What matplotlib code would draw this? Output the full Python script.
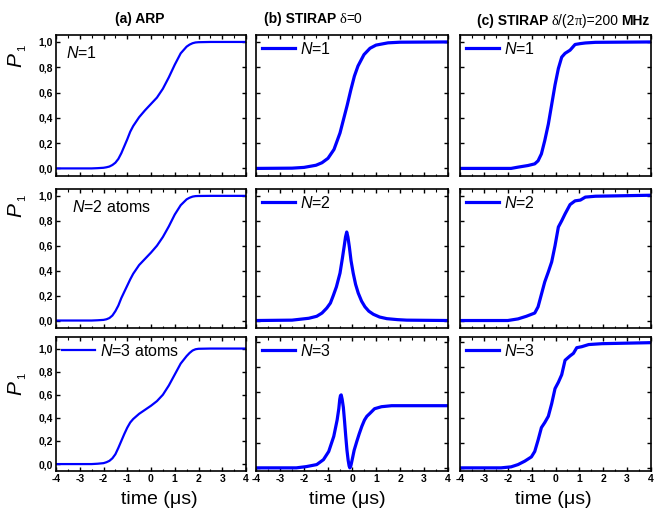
"""Population transfer P1(t) for ARP and STIRAP with N = 1, 2, 3 atoms."""

import matplotlib

matplotlib.use("Agg")
import matplotlib.pyplot as plt
from matplotlib.offsetbox import AnchoredOffsetbox, HPacker, TextArea

plt.rcParams["font.family"] = "Liberation Sans"
plt.rcParams["mathtext.fontset"] = "custom"
plt.rcParams["mathtext.rm"] = "Liberation Sans"
plt.rcParams["mathtext.it"] = "Liberation Sans:italic"
plt.rcParams["mathtext.bf"] = "Liberation Sans:bold"

# --- data (time in microseconds, P1 population) ---
arp_t = [-4, -2.5, -2.25, -2.0, -1.875, -1.75, -1.625, -1.5, -1.375, -1.25,
         -1.125, -1.0, -0.875, -0.75, -0.5, -0.25, 0, 0.25, 0.5, 0.75, 1.0,
         1.25, 1.5, 1.625, 1.75, 1.875, 2.0, 2.5, 4]
arp_n1 = [0, 0, 0.002, 0.005, 0.009, 0.015, 0.027, 0.045, 0.075, 0.12,
          0.175, 0.23, 0.29, 0.335, 0.405, 0.46, 0.51, 0.56, 0.63, 0.72, 0.82,
          0.91, 0.963, 0.979, 0.99, 0.996, 0.998, 1.0, 1.0]
arp_n2 = [0, 0, 0.002, 0.005, 0.01, 0.02, 0.04, 0.075, 0.12, 0.18,
          0.23, 0.28, 0.33, 0.375, 0.445, 0.495, 0.545, 0.60, 0.67, 0.755, 0.85,
          0.925, 0.972, 0.985, 0.994, 0.998, 0.999, 1.0, 1.0]
arp_n3 = [0, 0, 0.003, 0.008, 0.016, 0.028, 0.05, 0.085, 0.14, 0.2,
          0.26, 0.315, 0.36, 0.39, 0.435, 0.47, 0.505, 0.545, 0.6, 0.68, 0.775,
          0.87, 0.935, 0.962, 0.983, 0.994, 0.998, 1.0, 1.0]

res_n1_t = [-4, -2.5, -2.0, -1.5, -1.25, -1.0, -0.75, -0.5, -0.35, -0.2, -0.05,
            0.1, 0.25, 0.5, 0.75, 1.0, 1.5, 2.0, 4]
res_n1 = [0, 0.002, 0.008, 0.025, 0.045, 0.08, 0.15, 0.28, 0.39, 0.5, 0.62,
          0.73, 0.81, 0.9, 0.95, 0.975, 0.993, 0.998, 1.0]
res_n2_t = [-4, -2.5, -1.8, -1.47, -1.25, -1.05, -0.9, -0.78, -0.65, -0.5,
            -0.4, -0.33, -0.27, -0.22, -0.17, -0.11, -0.04, 0.05, 0.15, 0.26,
            0.4, 0.54, 0.7, 0.89, 1.15, 1.45, 1.9, 2.28, 4]
res_n2 = [0, 0.003, 0.018, 0.034, 0.06, 0.1, 0.14, 0.2, 0.27, 0.38,
          0.5, 0.59, 0.67, 0.71, 0.67, 0.59, 0.48, 0.38, 0.29, 0.22,
          0.155, 0.11, 0.075, 0.05, 0.028, 0.015, 0.007, 0.003, 0]
res_n3_t = [-4, -2.32, -1.9, -1.47, -1.19, -0.97, -0.76, -0.62, -0.55, -0.51,
            -0.48, -0.45, -0.41, -0.36, -0.31, -0.26, -0.21, -0.16, -0.12, -0.09,
            -0.05, -0.02, 0.03, 0.09, 0.2, 0.3, 0.41, 0.52, 0.62, 0.73,
            0.94, 1.23, 1.65, 2.36, 4]
res_n3 = [0, 0.0, 0.01, 0.026, 0.065, 0.13, 0.25, 0.38, 0.47, 0.545,
          0.575, 0.58, 0.545, 0.48, 0.37, 0.25, 0.14, 0.06, 0.015, 0.0,
          0.015, 0.04, 0.085, 0.14, 0.21, 0.27, 0.33, 0.38, 0.41, 0.43,
          0.47, 0.486, 0.494, 0.494, 0.494]

det_n1_t = [-4, -1.86, -1.57, -1.15, -0.87, -0.73, -0.59, -0.45, -0.3, -0.16,
            -0.02, 0.12, 0.26, 0.4, 0.61, 0.82, 1.04, 1.25, 1.67, 4]
det_n1 = [0, 0, 0.01, 0.023, 0.036, 0.06, 0.115, 0.22, 0.35, 0.505,
          0.66, 0.79, 0.88, 0.91, 0.935, 0.98, 0.987, 0.992, 0.997, 1.0]
det_n2_t = [-4, -2.0, -1.57, -1.22, -0.87, -0.73, -0.59, -0.45, -0.3, -0.16,
            -0.02, 0.12, 0.26, 0.4, 0.61, 0.82, 1.04, 1.25, 1.67, 4]
det_n2 = [0, 0, 0.013, 0.034, 0.06, 0.11, 0.21, 0.31, 0.39, 0.47,
          0.6, 0.75, 0.8, 0.855, 0.93, 0.96, 0.966, 0.99, 0.997, 1.005]
det_n3_t = [-4, -2.28, -1.86, -1.57, -1.29, -1.01, -0.87, -0.73, -0.59, -0.45,
            -0.3, -0.16, -0.02, 0.12, 0.26, 0.4, 0.61, 0.75, 0.89, 1.1,
            1.39, 1.95, 4]
det_n3 = [0, 0, 0.008, 0.026, 0.053, 0.087, 0.13, 0.22, 0.32, 0.36,
          0.41, 0.51, 0.63, 0.68, 0.74, 0.855, 0.89, 0.91, 0.955, 0.963,
          0.98, 0.987, 0.995]

curves = [
    [(arp_t, arp_n1), (arp_t, arp_n2), (arp_t, arp_n3)],
    [(res_n1_t, res_n1), (res_n2_t, res_n2), (res_n3_t, res_n3)],
    [(det_n1_t, det_n1), (det_n2_t, det_n2), (det_n3_t, det_n3)],
]
labels = [
    ["$N$=1", "$N$=2 atoms", "$N$=3 atoms"],
    ["$N$=1", "$N$=2", "$N$=3"],
    ["$N$=1", "$N$=2", "$N$=3"],
]
x_ticks = [-4, -3, -2, -1, 0, 1, 2, 3, 4]
y_ticks = [0.0, 0.2, 0.4, 0.6, 0.8, 1.0]

# --- layout in pixels ---
W, H = 667, 512
COLS = [(56, 190), (256, 192), (460, 191)]
ROWS = [(35, 176), (189, 328), (337, 471)]
YLIMS = [
    [(-0.06, 1.055), (-0.06, 1.055), (-0.06, 1.1)],
    [(-0.06, 1.055), (-0.06, 1.055), (-0.025, 1.04)],
    [(-0.06, 1.055), (-0.06, 1.055), (-0.025, 1.04)],
]
BLUE = "#0000ff"


def add_axes(fig, col, row):
    left, width = COLS[col]
    top, bottom = ROWS[row]
    return fig.add_axes([left / W, 1 - bottom / H, width / W, (bottom - top) / H])


def add_title(fig, x, y, parts):
    boxes = [TextArea(text, textprops=props) for text, props in parts]
    pack = HPacker(children=boxes, align="baseline", pad=0, sep=0)
    box = AnchoredOffsetbox(loc="center", child=pack, pad=0, borderpad=0,
                            frameon=False, bbox_to_anchor=(x / W, 1 - y / H),
                            bbox_transform=fig.transFigure)
    fig.add_artist(box)


def style_axes(ax, col, row):
    ax.set_xlim(-4, 4)
    ax.set_ylim(*YLIMS[col][row])
    for side in ax.spines.values():
        side.set_linewidth(1.2)
    ax.tick_params(direction="in", top=True, right=True, length=3, width=1,
                   labelsize=7.5, pad=2)
    ax.tick_params(which="minor", direction="in", top=True, right=True,
                   length=1.8, width=0.8)
    ax.set_xticks([t + 0.5 for t in x_ticks[:-1]], minor=True)
    if row == 2:
        ax.set_xticks(x_ticks, [str(t) for t in x_ticks], fontweight="bold")
    else:
        ax.set_xticks(x_ticks, [])
    if col == 0:
        ax.set_yticks(y_ticks, [f"{v:.1f}".replace(".", ",") for v in y_ticks],
                      fontweight="bold")
    else:
        ax.set_yticks(y_ticks, [])


def main():
    fig = plt.figure(figsize=(W / 100, H / 100), dpi=100)

    for col in range(3):
        for row in range(3):
            ax = add_axes(fig, col, row)
            t, p = curves[col][row]
            lw = 1.6 if col == 0 else 2.3
            ax.plot(t, p, color=BLUE, lw=lw, label=labels[col][row])
            style_axes(ax, col, row)
            if col == 0 and row < 2:
                ax.text(0.05 + 0.033 * row, 0.872, labels[col][row],
                        transform=ax.transAxes, fontsize=11.5, va="center")
            else:
                ax.legend(loc="upper left", frameon=False, fontsize=11.5,
                          handlelength=2.1, handletextpad=0.3,
                          borderaxespad=0.15, borderpad=0.2)

    # rotated P with a small subscript 1 sitting above and to its right
    for y in (60, 210, 388):
        fig.text(16 / W, 1 - y / H, "P", rotation=90, fontsize=15,
                 style="italic", ha="center", va="center")
        fig.text(22 / W, 1 - (y - 12) / H, "1", rotation=90, fontsize=8,
                 ha="center", va="center")
    for x in (159, 347, 553):
        fig.text(x / W, 1 - 499 / H, "time (\u03bcs)", fontsize=14,
                 ha="center", va="center")

    bold = {"fontsize": 10, "fontweight": "bold"}
    plain = {"fontsize": 10}
    serif = {"fontsize": 10.5, "family": "Liberation Serif"}
    add_title(fig, 140, 19, [("(a) ARP", bold)])
    add_title(fig, 313, 19, [("(b) STIRAP\u2009", bold), ("\u03b4", serif),
                             ("=0", plain)])
    add_title(fig, 563, 21, [("(c) STIRAP\u2009", bold), ("\u03b4", serif),
                             ("/(2", plain), ("\u03c0", serif),
                             (")=200\u2009", plain), ("MHz", bold)])

    fig.savefig("out.png", dpi=100)
    plt.close(fig)


if __name__ == "__main__":
    main()
